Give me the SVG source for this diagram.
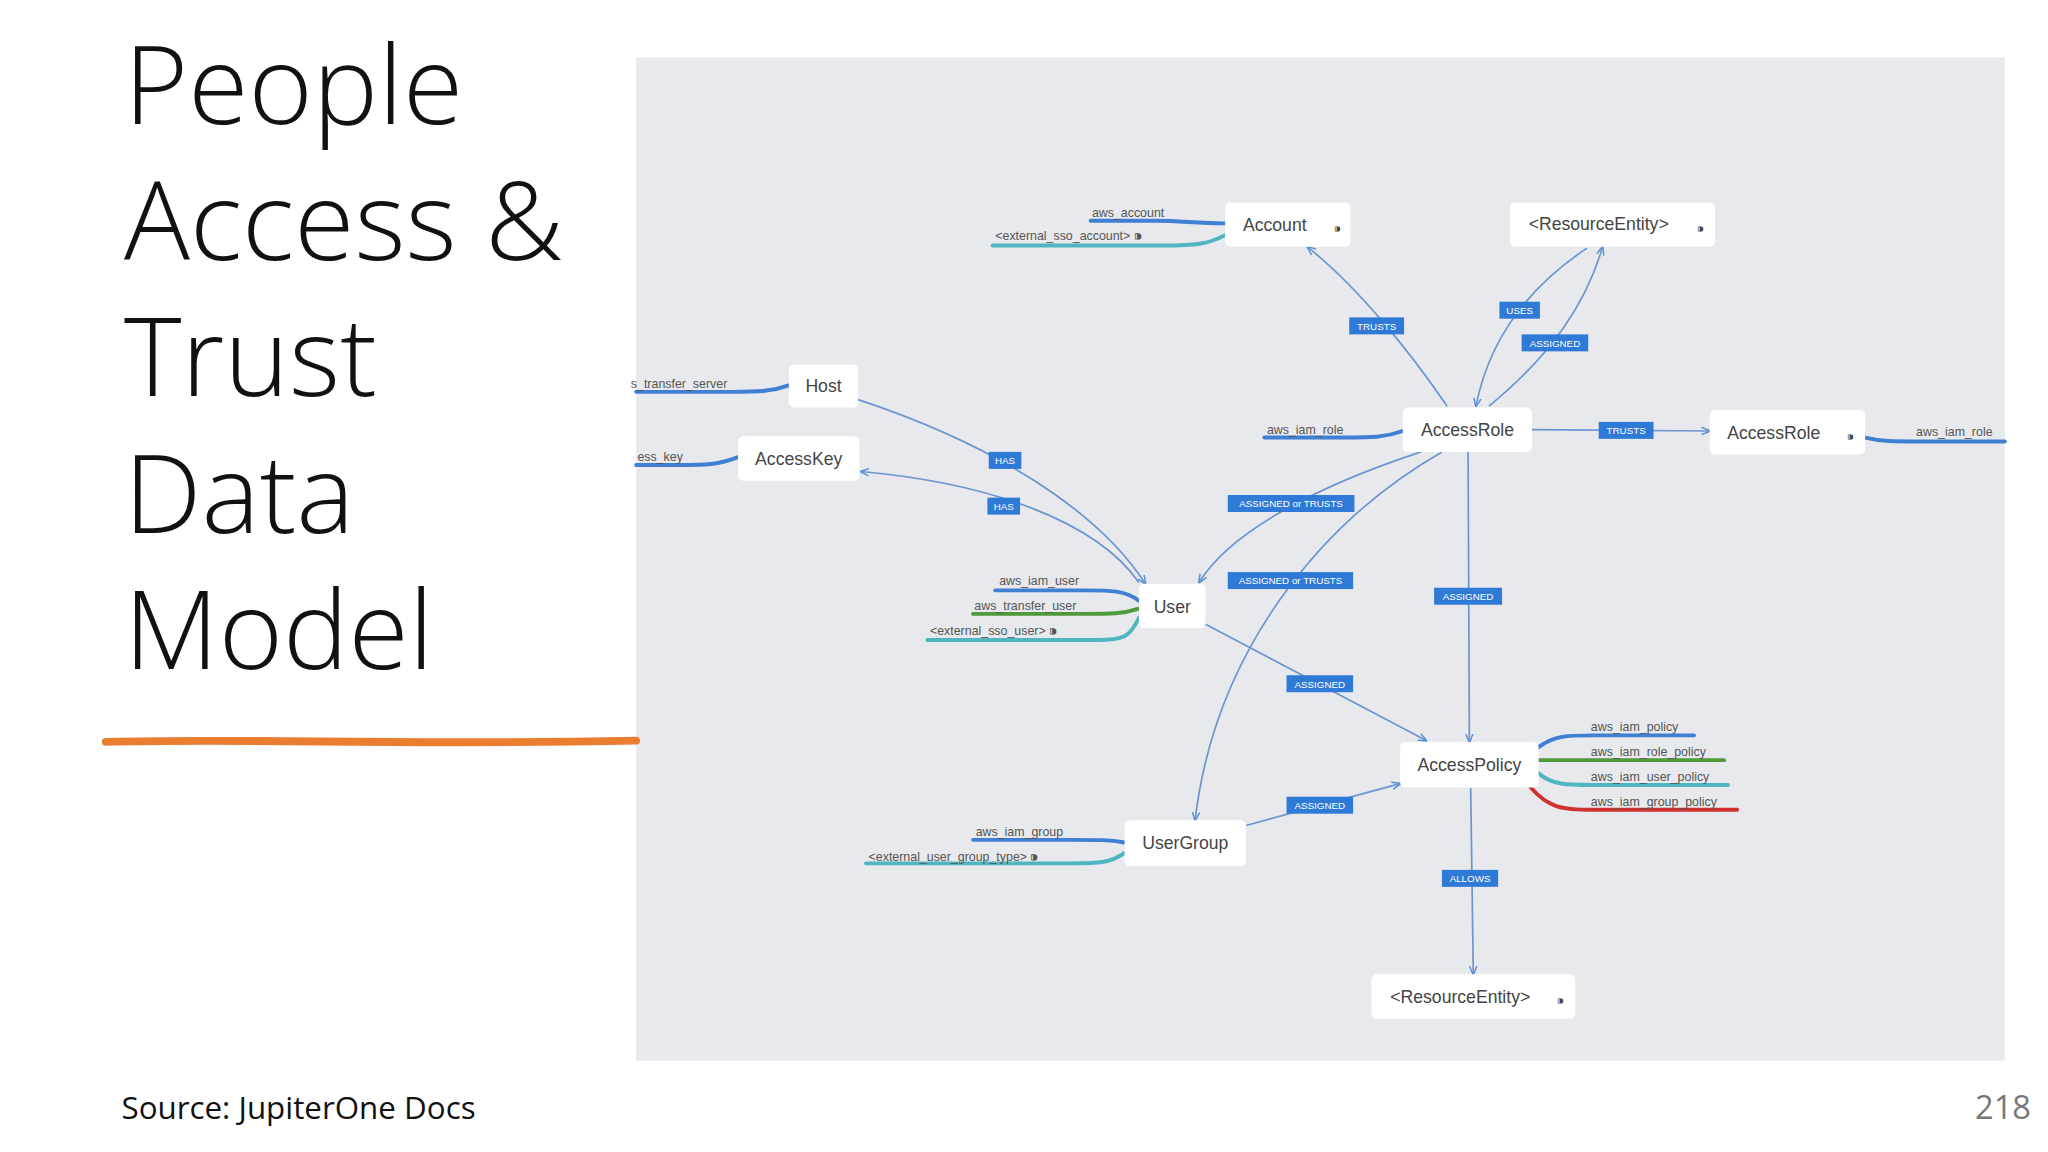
<svg xmlns="http://www.w3.org/2000/svg" width="2048" height="1152" viewBox="0 0 2048 1152">
<defs>
<marker id="ah" viewBox="0 0 10 10" refX="9" refY="5" markerWidth="7" markerHeight="7" orient="auto" markerUnits="userSpaceOnUse"><path d="M0,1 L10,5 L0,9" fill="none" stroke="#5b8fd6" stroke-width="1.6"/></marker>
<style>
.title{font-family:"Open Sans","Liberation Sans",sans-serif;font-weight:300;font-size:84px;fill:#111}
.node rect{fill:#fff;rx:4px}
.node text{font-family:"Liberation Sans",Arial,sans-serif;font-size:13.5px;fill:#444;text-anchor:middle}
.e{fill:none;stroke:#6d95cf;stroke-width:1.3;marker-end:url(#ah)}
.lb rect{fill:#2f7ad6}
.lb text{font-family:"Liberation Sans",Arial,sans-serif;font-size:7.5px;fill:#fff;text-anchor:middle}
.st{fill:none;stroke-width:3;stroke-linecap:round}
.stt{font-family:"Liberation Sans",Arial,sans-serif;font-size:9.5px;fill:#555}
.b{stroke:#3f7fd4}.g{stroke:#4f9a3a}.t{stroke:#4fb5c0}.r{stroke:#d0322f}
</style>
</defs>
<rect width="2048" height="1152" fill="#fff"/>
<g transform="scale(1.30612)">
<rect x="487" y="44" width="1048" height="768" fill="#e7e9ed"/>
<g id="title">
<text class="title" x="95" y="95">People</text>
<text class="title" x="95" y="199">Access &amp;</text>
<text class="title" x="95" y="303">Trust</text>
<text class="title" x="95" y="408">Data</text>
<text class="title" x="95" y="512">Model</text>
</g>
<path d="M81,568 C200,565 300,571 487,567" stroke="#ea7d2f" stroke-width="6" fill="none" stroke-linecap="round"/>
<text x="93" y="857" font-family="'Open Sans','Liberation Sans',sans-serif" font-size="24" fill="#111">Source: JupiterOne Docs</text>
<text x="1555" y="857" font-family="'Open Sans','Liberation Sans',sans-serif" font-size="25" fill="#777" text-anchor="end">218</text>

<g id="stubs">
<path class="st b" d="M938,171 C915,171 905,169 885,169 L835,169"/><text class="stt" x="836" y="166">aws_account</text>
<path class="st t" d="M938,180 C925,187 915,188 890,188 L760,188"/><text class="stt" x="762" y="184">&lt;external_sso_account&gt;  ⁍</text>
<path class="st b" d="M604,295 C590,300 580,300 560,300 L487,300"/><text class="stt" x="483" y="297">s_transfer_server</text>
<path class="st b" d="M565,350 C550,356 540,356 520,356 L487,356"/><text class="stt" x="488" y="353">ess_key</text>
<path class="st b" d="M1074,330 C1060,335 1050,335 1030,335 L968,335"/><text class="stt" x="970" y="332">aws_iam_role</text>
<path class="st b" d="M1428,335 C1440,338 1450,338 1470,338 L1535,338"/><text class="stt" x="1467" y="334">aws_iam_role</text>
<path class="st b" d="M872,460 C862,452 850,452 830,452 L762,452"/><text class="stt" x="765" y="448">aws_iam_user</text>
<path class="st g" d="M872,466 C860,470 850,470 830,470 L745,470"/><text class="stt" x="746" y="467">aws_transfer_user</text>
<path class="st t" d="M872,473 C865,488 860,490 840,490 L710,490"/><text class="stt" x="712" y="486">&lt;external_sso_user&gt;  ⁍</text>
<path class="st b" d="M1178,572 C1190,563 1200,563 1220,563 L1297,563"/><text class="stt" x="1218" y="560">aws_iam_policy</text>
<path class="st g" d="M1178,582 L1320,582"/><text class="stt" x="1218" y="579">aws_iam_role_policy</text>
<path class="st t" d="M1178,592 C1188,601 1200,601 1220,601 L1323,601"/><text class="stt" x="1218" y="598">aws_iam_user_policy</text>
<path class="st r" d="M1172,603 C1185,618 1195,620 1220,620 L1330,620"/><text class="stt" x="1218" y="617">aws_iam_group_policy</text>
<path class="st b" d="M861,645 C850,643 840,643 820,643 L745,643"/><text class="stt" x="747" y="640">aws_iam_group</text>
<path class="st t" d="M861,653 C850,661 840,661 820,661 L663,661"/><text class="stt" x="665" y="659">&lt;external_user_group_type&gt;  ⁍</text>
</g>

<g id="connectors">
<path class="e" d="M1108,311 C1080,270 1040,220 1001,189"/>
<path class="e" d="M1215,190 C1170,220 1140,260 1130,311"/>
<path class="e" d="M1140,311 C1190,270 1215,230 1227,189"/>
<path class="e" d="M1173,329 L1309,330"/>
<path class="e" d="M657,306 C760,340 840,390 877,447"/>
<path class="e" d="M872,446 C840,400 760,370 659,361"/>
<path class="e" d="M1088,346 C1000,375 940,410 918,446"/>
<path class="e" d="M1104,346 C1010,400 930,500 915,628"/>
<path class="e" d="M1124,346 L1125,568"/>
<path class="e" d="M923,478 L1092,567"/>
<path class="e" d="M954,632 L1072,600"/>
<path class="e" d="M1126,603 L1128,746"/>
</g>

<g id="edge-labels">
<g class="lb"><rect x="1033" y="243" width="42" height="13"/><text x="1054" y="252.5">TRUSTS</text></g>
<g class="lb"><rect x="1148" y="231" width="31" height="13"/><text x="1163.5" y="240.5">USES</text></g>
<g class="lb"><rect x="1165" y="256" width="51" height="13"/><text x="1190.5" y="265.5">ASSIGNED</text></g>
<g class="lb"><rect x="1224" y="323" width="42" height="13"/><text x="1245" y="332.5">TRUSTS</text></g>
<g class="lb"><rect x="757" y="346" width="25" height="13"/><text x="769.5" y="355.5">HAS</text></g>
<g class="lb"><rect x="756" y="381" width="25" height="13"/><text x="768.5" y="390.5">HAS</text></g>
<g class="lb"><rect x="940" y="379" width="97" height="13"/><text x="988.5" y="388.5">ASSIGNED or TRUSTS</text></g>
<g class="lb"><rect x="940" y="438" width="96" height="13"/><text x="988" y="447.5">ASSIGNED or TRUSTS</text></g>
<g class="lb"><rect x="1098" y="450" width="52" height="13"/><text x="1124" y="459.5">ASSIGNED</text></g>
<g class="lb"><rect x="985" y="517" width="51" height="13"/><text x="1010.5" y="526.5">ASSIGNED</text></g>
<g class="lb"><rect x="985" y="610" width="51" height="13"/><text x="1010.5" y="619.5">ASSIGNED</text></g>
<g class="lb"><rect x="1104" y="666" width="43" height="13"/><text x="1125.5" y="675.5">ALLOWS</text></g>
</g>

<g id="n-account" class="node"><rect x="938" y="155" width="96" height="34"/><text x="976" y="177">Account</text><text x="1024" y="178" style="font-size:8px">⁍</text></g>
<g id="n-resource-top" class="node"><rect x="1156" y="155" width="157" height="34"/><text x="1224" y="176">&lt;ResourceEntity&gt;</text><text x="1302" y="178" style="font-size:8px">⁍</text></g>
<g id="n-host" class="node"><rect x="604" y="279" width="53" height="33"/><text x="630.5" y="300">Host</text></g>
<g id="n-accesskey" class="node"><rect x="565" y="334" width="93" height="34"/><text x="611.5" y="356">AccessKey</text></g>
<g id="n-accessrole" class="node"><rect x="1074" y="312" width="99" height="34"/><text x="1123.5" y="334">AccessRole</text></g>
<g id="n-accessrole2" class="node"><rect x="1309" y="314" width="119" height="34"/><text x="1358" y="336">AccessRole</text><text x="1417" y="337" style="font-size:8px">⁍</text></g>
<g id="n-user" class="node"><rect x="872" y="447" width="51" height="34"/><text x="897.5" y="469">User</text></g>
<g id="n-accesspolicy" class="node"><rect x="1072" y="568" width="106" height="35"/><text x="1125" y="590">AccessPolicy</text></g>
<g id="n-usergroup" class="node"><rect x="861" y="628" width="93" height="35"/><text x="907.5" y="650">UserGroup</text></g>
<g id="n-resource-bottom" class="node"><rect x="1050" y="746" width="156" height="34"/><text x="1118" y="768">&lt;ResourceEntity&gt;</text><text x="1195" y="769" style="font-size:8px">⁍</text></g>
</g>
</svg>
